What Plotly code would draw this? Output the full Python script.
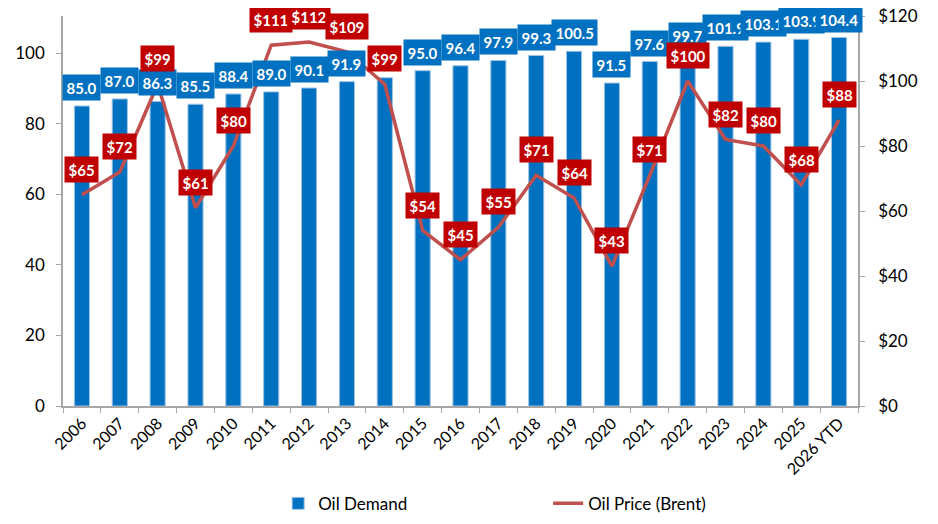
import plotly.graph_objects as go

years = ["2006", "2007", "2008", "2009", "2010", "2011", "2012", "2013", "2014", "2015",
         "2016", "2017", "2018", "2019", "2020", "2021", "2022", "2023", "2024", "2025", "2026 YTD"]
demand = [85.0, 87.0, 86.3, 85.5, 88.4, 89.0, 90.1, 91.9, 93.0, 95.0,
          96.4, 97.9, 99.3, 100.5, 91.5, 97.6, 99.7, 101.9, 103.1, 103.9, 104.4]
price = [65, 72, 99, 61, 80, 111, 112, 109, 99, 54,
         45, 55, 71, 64, 43, 71, 100, 82, 80, 68, 88]
demand_labels = ["85.0", "87.0", "86.3", "85.5", "88.4", "89.0", "90.1", "91.9", "", "95.0",
                 "96.4", "97.9", "99.3", "100.5", "91.5", "97.6", "99.7", "101.9", "103.1", "103.9", "104.4"]

FONT = "Lato"
BLUE = "#0070C0"
RED_LINE = "#C0504D"
RED_LABEL = "#C00000"

fig = go.Figure()
fig.add_trace(go.Bar(
    x=years, y=demand, name="Oil Demand",
    marker=dict(color=BLUE, line=dict(color="#9DC3E6", width=1)),
    yaxis="y",
))
fig.add_trace(go.Scatter(
    x=years, y=price, name="Oil Price (Brent)", mode="lines",
    line=dict(color=RED_LINE, width=3.5), yaxis="y2",
))

annotations = []
for i, (v, lab) in enumerate(zip(demand, demand_labels)):
    if not lab:
        continue
    annotations.append(dict(
        x=i, y=v, xref="x", yref="y", text="<b>%s</b>" % lab, showarrow=False,
        yanchor="bottom", yshift=5, bgcolor=BLUE, borderpad=3.5,
        font=dict(family=FONT, size=15, color="white"),
    ))
for i, p in enumerate(price):
    annotations.append(dict(
        x=i, y=p, xref="x", yref="y2", text="<b>$%d</b>" % p, showarrow=False,
        yanchor="bottom", yshift=12, bgcolor=RED_LABEL, borderpad=3.5,
        font=dict(family=FONT, size=15, color="white"),
    ))

# page body has an 8px margin, so the figure is sized/offset to compensate
fig.update_layout(
    width=922, height=508,
    margin=dict(l=55, r=72, t=8, b=110, autoexpand=False),
    paper_bgcolor="white", plot_bgcolor="white",
    font=dict(family=FONT, size=16, color="#000000"),
    bargap=0.6,
    showlegend=True,
    legend=dict(orientation="h", xref="container", yref="container",
                x=0.293, xanchor="left", y=0.024, yanchor="middle",
                font=dict(family=FONT, size=17, color="#000000"), entrywidth=225,
                traceorder="normal"),
    xaxis=dict(type="category", range=[-0.5, len(years) - 0.5], tickangle=-45, showline=True,
               linecolor="#A6A6A6", linewidth=1.5, automargin=False,
               ticks="outside", ticklen=5, tickcolor="#A6A6A6", tickson="boundaries",
               showgrid=False, tickfont=dict(family=FONT, size=16)),
    yaxis=dict(range=[0, 110.5], tickvals=[0, 20, 40, 60, 80, 100], showline=True, automargin=False,
               linecolor="#A6A6A6", linewidth=1.5, ticks="outside", ticklen=5, tickcolor="#A6A6A6",
               ticklabelstandoff=8, ticklabeloverflow="allow",
               showgrid=False, zeroline=False, tickfont=dict(family=FONT, size=17)),
    yaxis2=dict(range=[0, 120], tickvals=[0, 20, 40, 60, 80, 100, 120],
                ticktext=["$0", "$20", "$40", "$60", "$80", "$100", "$120"], automargin=False,
                overlaying="y", side="right", showline=True, linecolor="#A6A6A6", linewidth=1.5,
                ticks="outside", ticklen=5, tickcolor="#A6A6A6", ticklabelstandoff=10,
                ticklabeloverflow="allow",
                showgrid=False, zeroline=False,
                tickfont=dict(family=FONT, size=17)),
    annotations=annotations,
)

fig.write_html("out.html")
